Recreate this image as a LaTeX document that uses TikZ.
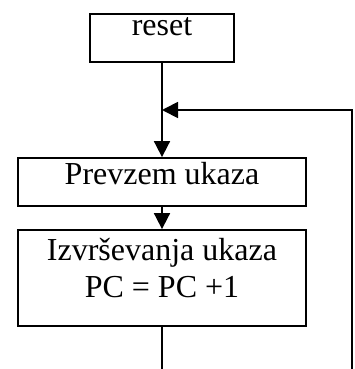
\documentclass[tikz,border=0pt]{standalone}
\usepackage{fontspec}
\setmainfont{Liberation Serif}
\usetikzlibrary{arrows.meta}
\begin{document}
\begin{tikzpicture}[x=1pt,y=-1pt,
  box/.style={draw,line width=1.8pt,rectangle,inner sep=0pt},
  txt/.style={anchor=base,inner sep=0pt,font=\fontsize{32}{37}\selectfont},
  conn/.style={line width=1.8pt},
  arr/.style={conn,-{Triangle[length=16pt,width=16pt]}}]
\useasboundingbox (0,0) rectangle (354,369);
\node[box,minimum width=144pt,minimum height=48pt] (reset) at (162,38) {};
\node[box,minimum width=288pt,minimum height=48pt] (prevzem) at (162,182) {};
\node[box,minimum width=288pt,minimum height=96pt] (izv) at (162,278) {};
\node[txt] (treset) at (162,36) {reset};
\node[txt] (tprev) at (162,184) {Prevzem ukaza};
\node[txt] (tizv1) at (162,260) {Izvrševanja ukaza};
\node[txt] (tizv2) at (162,297) {PC = PC +1};
\coordinate (join) at (162,110);
\coordinate (rtop) at (352,110);
\coordinate (rbot) at (352,369);
\coordinate (bot) at (162,369);
\draw[arr] (reset.south) -- (prevzem.north);
\draw[arr] (prevzem.south) -- (izv.north);
\draw[conn] (izv.south) -- (bot);
\draw[arr] (rbot) -- (rtop) -- (join);
\end{tikzpicture}
\end{document}
